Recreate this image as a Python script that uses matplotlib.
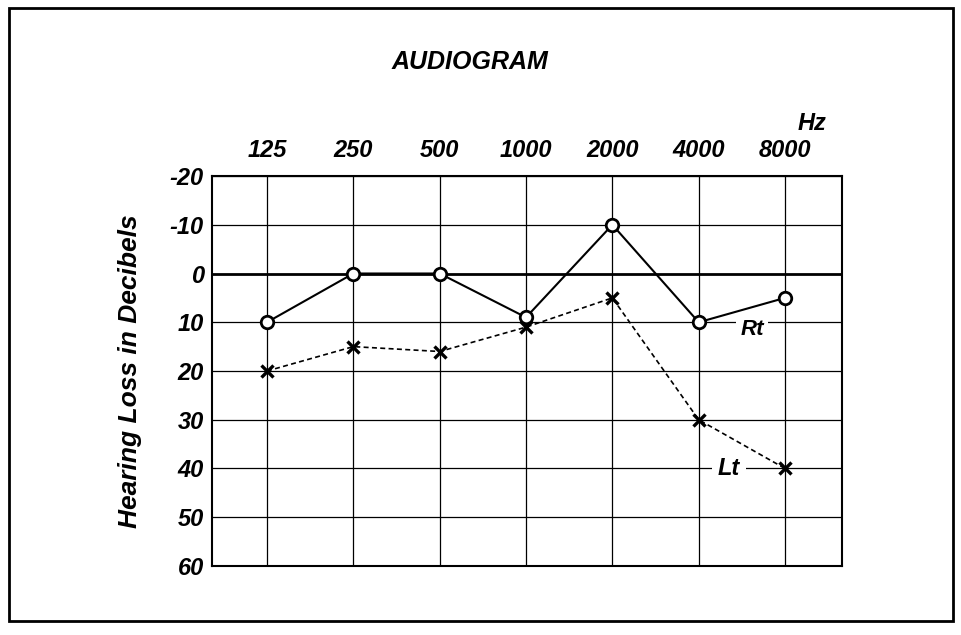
import matplotlib.pyplot as plt
from matplotlib.patches import Rectangle

freqs = ['125', '250', '500', '1000', '2000', '4000', '8000']
right_ear = [10, 0, 0, 9, -10, 10, 5]
left_ear = [20, 15, 16, 11, 5, 30, 40]
db_ticks = [-20, -10, 0, 10, 20, 30, 40, 50, 60]

plt.rcParams['font.family'] = ['Liberation Sans', 'DejaVu Sans']
font = dict(fontweight='bold', fontstyle='italic')

fig = plt.figure(figsize=(9.61, 6.35), dpi=100)
ax = fig.add_axes([0.2206, 0.1087, 0.6556, 0.6141])

x = list(range(len(freqs)))

# grid
for v in db_ticks:
    ax.axhline(v, color='black', lw=2.0 if v == 0 else 0.9, zorder=1)
for xi in x:
    ax.axvline(xi, color='black', lw=0.9, zorder=1)

ax.plot(x, right_ear, color='black', lw=1.5, marker='o', ms=9,
        mfc='white', mec='black', mew=2, zorder=3)
ax.plot(x, left_ear, color='black', lw=1.2, ls=(0, (3, 2)), marker='x',
        ms=9, mew=2.4, zorder=3)

ax.text(5.62, 11.5, 'Rt', fontsize=16, ha='center', va='center', zorder=2,
        bbox=dict(fc='white', ec='none', pad=3), **font)
ax.text(5.35, 40, 'Lt', fontsize=17, ha='center', va='center', zorder=2,
        bbox=dict(fc='white', ec='none', pad=4), **font)

ax.set_xlim(-0.637, 6.66)
ax.set_ylim(60, -20)
ax.set_yticks(db_ticks)
ax.set_yticklabels([str(v) for v in db_ticks], fontsize=17, **font)
ax.set_xticks(x)
ax.set_xticklabels(freqs, fontsize=17, **font)
ax.xaxis.tick_top()
ax.tick_params(axis='x', length=0, pad=10)
ax.tick_params(axis='y', length=0, pad=6)
for s in ax.spines.values():
    s.set_linewidth(1.5)

ax.set_ylabel('Hearing Loss in Decibels', fontsize=19, labelpad=20, **font)

fig.text(0.489, 0.902, 'AUDIOGRAM', fontsize=18, ha='center', va='center', **font)
fig.text(0.845, 0.806, 'Hz', fontsize=17, ha='center', va='center', **font)

fig.patches.append(Rectangle((0.009, 0.022), 0.983, 0.965, transform=fig.transFigure,
                             fill=False, ec='black', lw=2))

fig.savefig('out.png', dpi=100)
